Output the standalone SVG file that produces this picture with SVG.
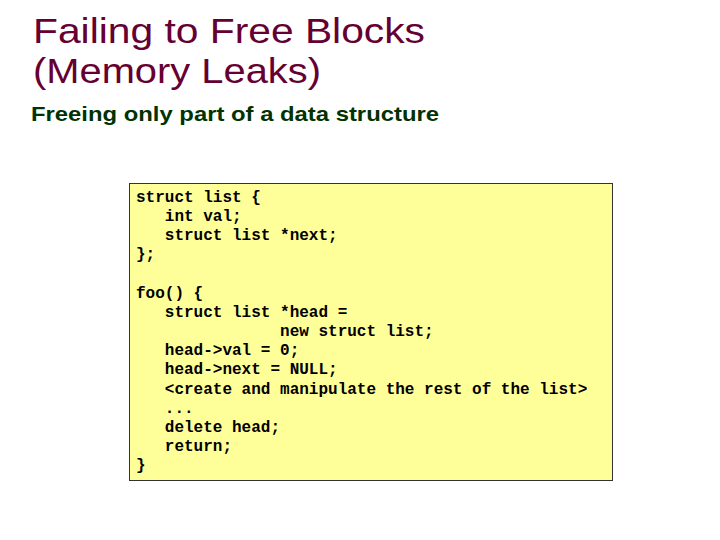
<svg xmlns="http://www.w3.org/2000/svg" width="720" height="540" viewBox="0 0 720 540">
<style>
.t{font-family:"Liberation Sans",Arial,sans-serif;font-size:35px;fill:#660033}
.s{font-family:"Liberation Sans",Arial,sans-serif;font-size:21px;font-weight:bold;fill:#003300}
.c{font-family:"Liberation Mono","Courier New",monospace;font-size:16px;font-weight:bold;fill:#000;white-space:pre}
</style>
<rect width="720" height="540" fill="#fff"/>
<text class="t" x="33" y="43" textLength="392" lengthAdjust="spacingAndGlyphs">Failing to Free Blocks</text>
<text class="t" x="33" y="83" textLength="288" lengthAdjust="spacingAndGlyphs">(Memory Leaks)</text>
<text class="s" x="31" y="121" textLength="408" lengthAdjust="spacingAndGlyphs">Freeing only part of a data structure</text>
<g id="code">
<rect x="129.5" y="183.5" width="483" height="297" fill="#FFFF99" stroke="#333"/>
<text class="c" xml:space="preserve"><tspan x="136" y="202">struct list {</tspan><tspan x="136" y="221">   int val;</tspan><tspan x="136" y="240">   struct list *next;</tspan><tspan x="136" y="259">};</tspan><tspan x="136" y="298">foo() {</tspan><tspan x="136" y="317">   struct list *head =</tspan><tspan x="136" y="336">               new struct list;</tspan><tspan x="136" y="355">   head-&gt;val = 0;</tspan><tspan x="136" y="374">   head-&gt;next = NULL;</tspan><tspan x="136" y="394">   &lt;create and manipulate the rest of the list&gt;</tspan><tspan x="136" y="413">   ...</tspan><tspan x="136" y="432">   delete head;</tspan><tspan x="136" y="451">   return;</tspan><tspan x="136" y="470">}</tspan></text>
</g>
</svg>
